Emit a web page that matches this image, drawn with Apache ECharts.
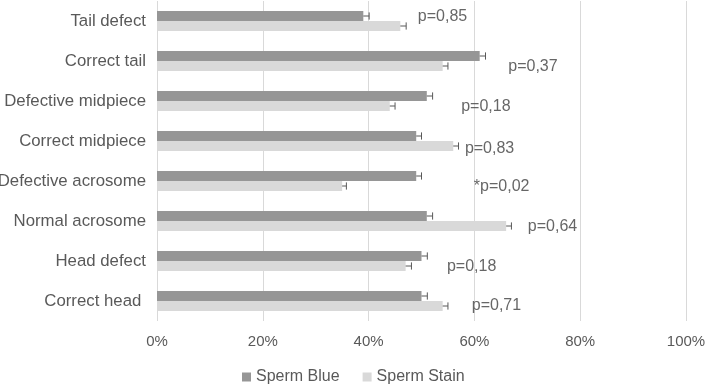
<!DOCTYPE html>
<html>
<head>
<meta charset="utf-8">
<script src="https://cdn.jsdelivr.net/npm/echarts@6/dist/echarts.min.js"></script>
<style>
html,body{margin:0;padding:0;background:#fff;}
#main{width:709px;height:384px;}
</style>
</head>
<body>
<div id="main"></div>
<script>
// categories top to bottom
var categories = ['Tail defect', 'Correct tail', 'Defective midpiece', 'Correct midpiece',
    'Defective acrosome', 'Normal acrosome', 'Head defect', 'Correct head '];
var spermBlue = [39, 61, 51, 49, 49, 51, 50, 50];
var spermBlueErr = [1.1, 1.1, 1.1, 1.0, 1.0, 1.1, 1.1, 1.1];
var spermStain = [46, 54, 44, 56, 35, 66, 47, 54];
var spermStainErr = [1.1, 1.0, 1.0, 1.0, 0.8, 1.0, 1.1, 1.0];
var pValues = ['p=0,85', 'p=0,37', 'p=0,18', 'p=0,83', '*p=0,02', 'p=0,64', 'p=0,18', 'p=0,71'];
// where each p label starts, in % on the x axis
var pLabelAt = [49.3, 66.4, 57.5, 58.2, 59.9, 70.1, 54.8, 59.5];
var xTicks = [0, 20, 40, 60, 80, 100];

var FONT = 'Liberation Sans';
var pShift = [-4, 6, 6, 8, 6, 6, 6, 5];

function errRender(sign){
    return function(params, api){
        var v = api.value(0), e = api.value(1), c = api.value(2);
        var band = api.size([0, 1])[1];
        var p0 = api.coord([v, c]);
        var p1 = api.coord([v + e, c]);
        var y = p0[1] + sign * band * 0.125;
        var cap = band * 0.09;
        var st = {stroke: '#595959', lineWidth: 1};
        return {
            type: 'group',
            children: [
                {type: 'line', shape: {x1: p0[0], y1: y, x2: p1[0], y2: y}, style: st},
                {type: 'line', shape: {x1: p1[0], y1: y - cap, x2: p1[0], y2: y + cap}, style: st}
            ]
        };
    };
}

function errData(vals, errs){
    return vals.map(function(v, i){ return [v, errs[i], i]; });
}

var option = {
    animation: false,
    grid: {left: 157, right: 23, top: 1, bottom: 63, containLabel: false, outerBoundsMode: 'none'},
    legend: {
        data: ['Sperm Blue', 'Sperm Stain'],
        top: 364,
        left: 237,
        itemWidth: 9,
        itemHeight: 9,
        itemGap: 23,
        icon: 'rect',
        textStyle: {color: '#595959', fontSize: 16, fontFamily: FONT}
    },
    xAxis: {
        type: 'value',
        min: 0,
        max: 100,
        interval: 20,
        axisLine: {show: false},
        axisTick: {show: false},
        splitLine: {lineStyle: {color: '#d9d9d9', width: 1}},
        axisLabel: {
            color: '#595959', fontSize: 15, fontFamily: FONT, margin: 13,
            formatter: function(v){ return xTicks.indexOf(v) >= 0 ? v + '%' : ''; }
        }
    },
    yAxis: {
        type: 'category',
        inverse: true,
        data: categories,
        axisLine: {show: false},
        axisTick: {show: false},
        axisLabel: {color: '#595959', fontSize: 16.8, fontFamily: FONT, margin: 11}
    },
    series: [
        {
            name: 'Sperm Blue',
            type: 'bar',
            data: spermBlue,
            itemStyle: {color: '#969696'},
            barGap: '0%',
            barCategoryGap: '50%'
        },
        {
            name: 'Sperm Stain',
            type: 'bar',
            data: spermStain,
            itemStyle: {color: '#d9d9d9'}
        },
        {
            type: 'custom',
            renderItem: errRender(-1),
            encode: {x: 0, y: 2},
            data: errData(spermBlue, spermBlueErr),
            z: 5
        },
        {
            type: 'custom',
            renderItem: errRender(1),
            encode: {x: 0, y: 2},
            data: errData(spermStain, spermStainErr),
            z: 5
        },
        {
            type: 'scatter',
            symbolSize: 0,
            silent: true,
            data: pLabelAt.map(function(x, i){
                return {
                    value: [x, i],
                    label: {offset: [0, pShift[i]]}
                };
            }),
            label: {
                show: true,
                position: 'right',
                distance: 0,
                color: '#404040',
                fontSize: 16,
                fontFamily: FONT,
                formatter: function(p){ return pValues[p.dataIndex]; }
            },
            z: 6
        }
    ]
};

var chart = echarts.init(document.getElementById('main'));
chart.setOption(option);
</script>
</body>
</html>
